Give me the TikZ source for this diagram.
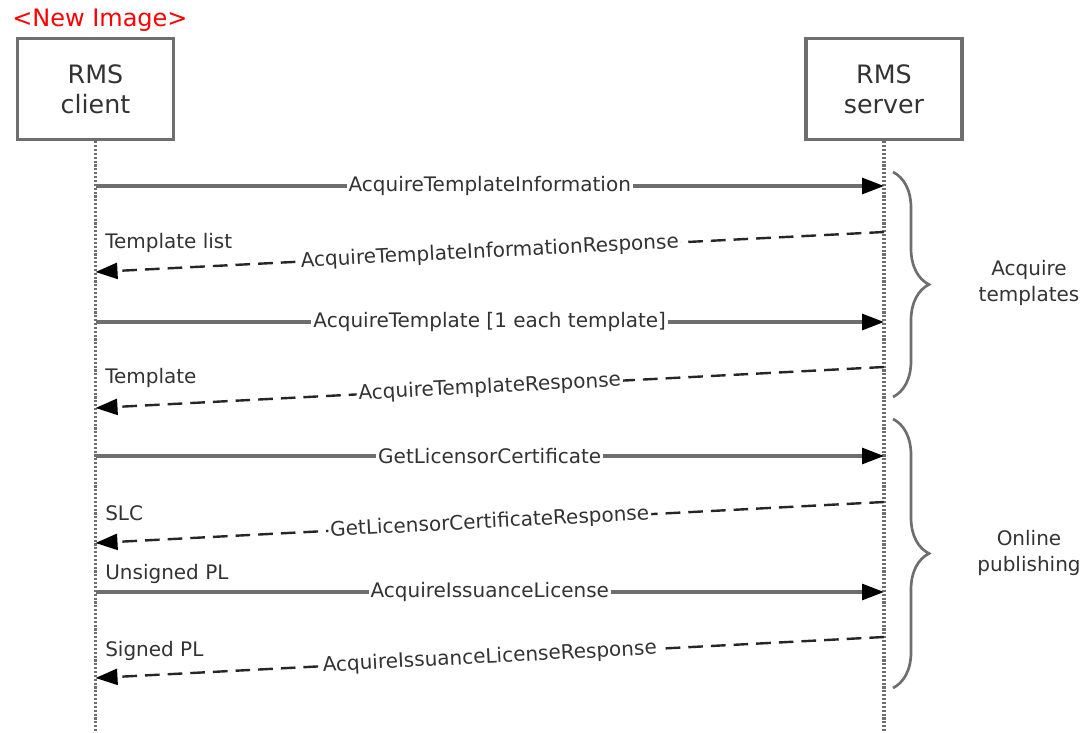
\documentclass[tikz,border=0pt]{standalone}
\usepackage{fontspec}
\setmainfont{DejaVu Sans}
\usetikzlibrary{arrows.meta,decorations.pathreplacing}
\definecolor{linegray}{HTML}{6E6E6E}
\definecolor{textgray}{HTML}{333333}

\begin{document}
\begin{tikzpicture}[x=0.75pt,y=-0.75pt,
        actor/.style={draw=linegray,line width=2.4pt,minimum width=117pt,minimum height=76pt,
            align=center,text=textgray,font=\fontsize{19}{22.5}\selectfont},
        lifeline/.style={linegray,line width=2.4pt,dash pattern=on 1.6pt off 1.3pt},
        call/.style={linegray,line width=2.3pt,-{Triangle[length=16.5pt,width=12pt,black]}},
        reply/.style={black!85,line width=1.8pt,dash pattern=on 11pt off 6pt,
            -{Triangle[length=16.5pt,width=12pt,black]}},
        msg/.style={fill=white,inner sep=1.5pt,text=textgray,font=\fontsize{15}{18}\selectfont},
        note/.style={anchor=west,inner sep=0pt,text=textgray,font=\fontsize{15}{18}\selectfont},
        group/.style={linegray,line width=2pt,decorate,decoration={brace,amplitude=27pt}},
        grouplabel/.style={align=center,text=textgray,font=\fontsize{15}{19.5}\selectfont}]
        \useasboundingbox (0,0) rectangle (1081,732);

        \node[anchor=west,inner sep=0pt,red,font=\fontsize{18}{21}\selectfont] (title) at (12,20) {<New Image>};

        \node[actor] (client) at (95.5,89) {RMS\\client};
        \node[actor] (server) at (884,89) {RMS\\server};

        \coordinate (clientend) at (95.5,732);
        \coordinate (serverend) at (884,732);
        \draw[lifeline] (client.south) -- (clientend);
        \draw[lifeline] (server.south) -- (serverend);

        % points on the lifelines
        \coordinate (c1) at (95.5,186);
        \coordinate (s1) at (884,186);
        \coordinate (s2) at (884,232);
        \coordinate (c2) at (95.5,272);
        \coordinate (c3) at (95.5,322);
        \coordinate (s3) at (884,322);
        \coordinate (s4) at (884,367);
        \coordinate (c4) at (95.5,408);
        \coordinate (c5) at (95.5,456);
        \coordinate (s5) at (884,456);
        \coordinate (s6) at (884,502);
        \coordinate (c6) at (95.5,543);
        \coordinate (c7) at (95.5,592);
        \coordinate (s7) at (884,592);
        \coordinate (s8) at (884,637);
        \coordinate (c8) at (95.5,678);

        \draw[call] (c1) -- node[msg] {AcquireTemplateInformation} (s1);
        \draw[reply] (s2) -- node[msg,sloped] {AcquireTemplateInformationResponse} (c2);
        \draw[call] (c3) -- node[msg] {AcquireTemplate [1 each template]} (s3);
        \draw[reply] (s4) -- node[msg,sloped] {AcquireTemplateResponse} (c4);
        \draw[call] (c5) -- node[msg] {GetLicensorCertificate} (s5);
        \draw[reply] (s6) -- node[msg,sloped] {GetLicensorCertificateResponse} (c6);
        \draw[call] (c7) -- node[msg] {AcquireIssuanceLicense} (s7);
        \draw[reply] (s8) -- node[msg,sloped] {AcquireIssuanceLicenseResponse} (c8);

        \node[note] (tlist) at (105,243) {Template list};
        \node[note] (tone) at (105,378) {Template};
        \node[note] (slc) at (105,513) {SLC};
        \node[note] (upl) at (105,574) {Unsigned PL};
        \node[note] (spl) at (105,651) {Signed PL};

        % groups
        \coordinate (g1top) at (893,172);
        \coordinate (g1bot) at (893,397);
        \coordinate (g2top) at (893,419);
        \coordinate (g2bot) at (893,688);
        \draw[group] (g1top) -- (g1bot);
        \draw[group] (g2top) -- (g2bot);

        \node[grouplabel] (acquire) at (1029,283) {Acquire\\templates};
        \node[grouplabel] (publish) at (1029,553) {Online\\publishing};
    \end{tikzpicture}
\end{document}
